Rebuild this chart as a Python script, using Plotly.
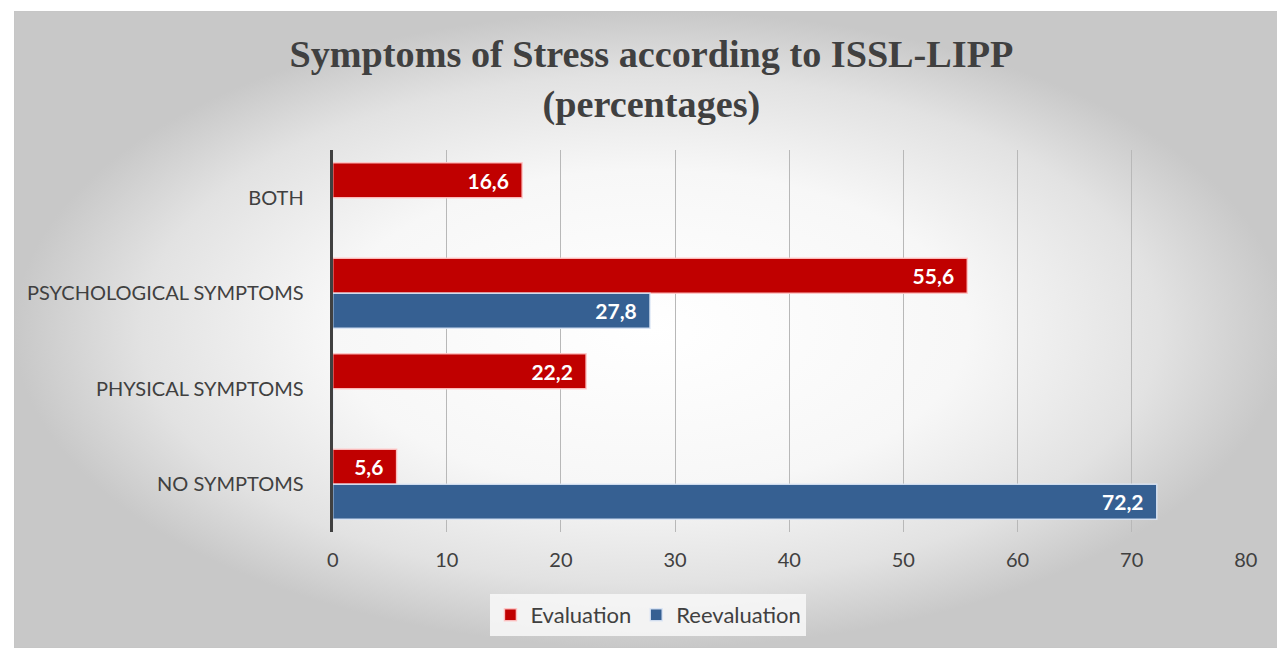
import plotly.graph_objects as go

categories = ["BOTH", "PSYCHOLOGICAL SYMPTOMS", "PHYSICAL SYMPTOMS", "NO SYMPTOMS"]
evaluation = [16.6, 55.6, 22.2, 5.6]
reevaluation = [0, 27.8, 0, 72.2]
series_names = ["Evaluation", "Reevaluation"]
x_ticks = [0, 10, 20, 30, 40, 50, 60, 70, 80]

W, H = 1290, 640
RED = "#C00000"
BLUE = "#366092"
TXT = "#404040"
PAD = "\u00a0\u00a0"


def fmt(v):
    s = f"{v:.1f}".replace(".", ",") if v % 1 else f"{v:.0f}"
    return s + PAD


fig = go.Figure()

# background radial gradient (first subplot, so it is beneath the chart)
fig.add_trace(go.Scatter(
    x=[0, 1, 1, 0, 0], y=[0, 0, 1, 1, 0], mode="lines", fill="toself",
    line=dict(width=1, color="#c4c4c4"),
    fillgradient=dict(type="radial",
                      colorscale=[[0, "#ffffff"], [0.5, "#f7f7f7"], [0.8, "#e2e2e2"], [1, "#c8c8c8"]]),
    hoverinfo="skip", showlegend=False, xaxis="x", yaxis="y"))

fig.add_trace(go.Bar(
    name=series_names[0], y=categories, x=evaluation, orientation="h",
    marker=dict(color=RED, line=dict(color="rgba(255,200,200,0.9)", width=1.5)),
    text=[fmt(v) for v in evaluation],
    textposition="inside", insidetextanchor="end",
    textfont=dict(family="Lato", size=21, color="white", weight="bold"),
    xaxis="x2", yaxis="y2"))
fig.add_trace(go.Bar(
    name=series_names[1], y=categories, x=reevaluation, orientation="h",
    marker=dict(color=BLUE, line=dict(color="rgba(220,230,245,0.9)", width=1.5)),
    text=[fmt(v) for v in reevaluation],
    textposition="inside", insidetextanchor="end",
    textfont=dict(family="Lato", size=21, color="white", weight="bold"),
    xaxis="x2", yaxis="y2"))

fig.update_layout(
    width=W, height=H,
    margin=dict(l=0, r=0, t=0, b=0),
    paper_bgcolor="white", plot_bgcolor="rgba(0,0,0,0)",
    barmode="group", bargap=0.265, bargroupgap=0,
    separators=",.",
    font=dict(family="Lato", color=TXT),
    title=dict(text="<b>Symptoms of Stress according to ISSL-LIPP<br>(percentages)</b>",
               x=643.4 / W, xanchor="center", y=1 - 59 / H, yanchor="top",
               font=dict(family="Liberation Serif", size=38.2, color=TXT)),
    xaxis=dict(domain=[0, 1], range=[0, 1], visible=False, fixedrange=True),
    yaxis=dict(domain=[0, 1 - 3 / H], range=[0, 1], visible=False, fixedrange=True),
    xaxis2=dict(domain=[323.2 / W, 1249.2 / W], anchor="y2", range=[0, 80],
                tickvals=x_ticks, showgrid=True, gridcolor="#b8b8b8", gridwidth=1,
                zeroline=False, showline=False,
                ticks="", tickfont=dict(size=20, color=TXT), ticklabelstandoff=14),
    yaxis2=dict(domain=[1 - 524 / H, 1 - 142 / H], anchor="x2", autorange="reversed",
                showline=True, linecolor="#404040", linewidth=3, showgrid=False,
                ticks="", tickfont=dict(size=20, color=TXT), ticklabelstandoff=22),
    legend=dict(orientation="h", x=643.4 / W, xanchor="center", y=1 - 607 / H, yanchor="middle",
                bgcolor="rgba(246,246,246,0.9)", font=dict(size=22, color=TXT),
                itemwidth=30, traceorder="normal"),
)

fig.write_html("out.html")
